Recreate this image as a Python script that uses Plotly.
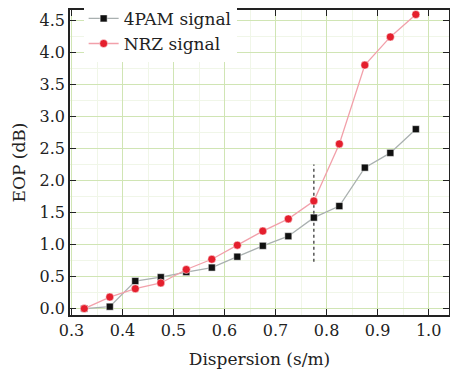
import plotly.graph_objects as go

dispersion = [0.325, 0.375, 0.425, 0.475, 0.525, 0.575, 0.625, 0.675, 0.725, 0.775, 0.825, 0.875, 0.925, 0.975]
eop_4pam = [0.00, 0.03, 0.43, 0.49, 0.57, 0.64, 0.81, 0.98, 1.13, 1.42, 1.60, 2.20, 2.43, 2.80]
eop_nrz = [0.00, 0.18, 0.31, 0.40, 0.61, 0.77, 0.99, 1.21, 1.40, 1.68, 2.57, 3.80, 4.24, 4.59]
marker_x = [0.775, 0.775]
marker_y = [0.73, 2.25]

font_fam = "DejaVu Serif, Liberation Serif, serif"

fig = go.Figure()
fig.add_trace(go.Scatter(x=marker_x, y=marker_y, mode="lines",
                         line=dict(color="#555555", width=1.5, dash="dot"),
                         showlegend=False, hoverinfo="skip"))
fig.add_trace(go.Scatter(x=dispersion, y=eop_4pam, mode="lines+markers", name="4PAM signal",
                         line=dict(color="#a9b0b0", width=1.3),
                         marker=dict(symbol="square", size=7, color="#111111",
                                     line=dict(color="#ffffff", width=0.5))))
fig.add_trace(go.Scatter(x=dispersion, y=eop_nrz, mode="lines+markers", name="NRZ signal",
                         line=dict(color="#f2a0aa", width=1.3),
                         marker=dict(symbol="circle", size=8, color="#e41f2d",
                                     line=dict(color="#ffffff", width=0.5))))

fig.update_layout(
    width=450, height=371,
    margin=dict(l=70, r=1, t=7, b=56),
    paper_bgcolor="white", plot_bgcolor="white",
    font=dict(family=font_fam, size=16, color="#222222"),
    legend=dict(x=0.036, y=1.03, xanchor="left", yanchor="top",
                bgcolor="white", borderwidth=0,
                font=dict(family=font_fam, size=17, color="#222222"),
                tracegroupgap=0, itemwidth=30),
    xaxis=dict(range=[0.297, 1.04], tickvals=[0.3, 0.4, 0.5, 0.6, 0.7, 0.8, 0.9, 1.0],
               ticktext=["0.3", "0.4", "0.5", "0.6", "0.7", "0.8", "0.9", "1.0"],
               automargin=False,
               showgrid=True, gridcolor="#d0e5b4", gridwidth=1.2,
               minor=dict(dtick=0.05, showgrid=True, gridcolor="#f0f6e8", gridwidth=1),
               showline=True, linecolor="#222222", linewidth=1.5, mirror="ticks",
               ticks="inside", ticklen=6, tickcolor="#222222", zeroline=False,
               title=dict(text="Dispersion (s/m)", standoff=14, font=dict(size=17))),
    yaxis=dict(range=[-0.1, 4.66], tickvals=[0, 0.5, 1, 1.5, 2, 2.5, 3, 3.5, 4, 4.5],
               ticktext=["0.0", "0.5", "1.0", "1.5", "2.0", "2.5", "3.0", "3.5", "4.0", "4.5"],
               automargin=False,
               showgrid=True, gridcolor="#d0e5b4", gridwidth=1.2,
               minor=dict(dtick=0.25, showgrid=True, gridcolor="#f0f6e8", gridwidth=1),
               showline=True, linecolor="#222222", linewidth=1.5, mirror="ticks",
               ticks="inside", ticklen=6, tickcolor="#222222", zeroline=False,
               title=dict(text="EOP (dB)", standoff=10, font=dict(size=17))),
)

fig.write_html("out.html", config={"displayModeBar": False},
               post_script="document.body.style.margin='0';document.body.style.padding='0';")
